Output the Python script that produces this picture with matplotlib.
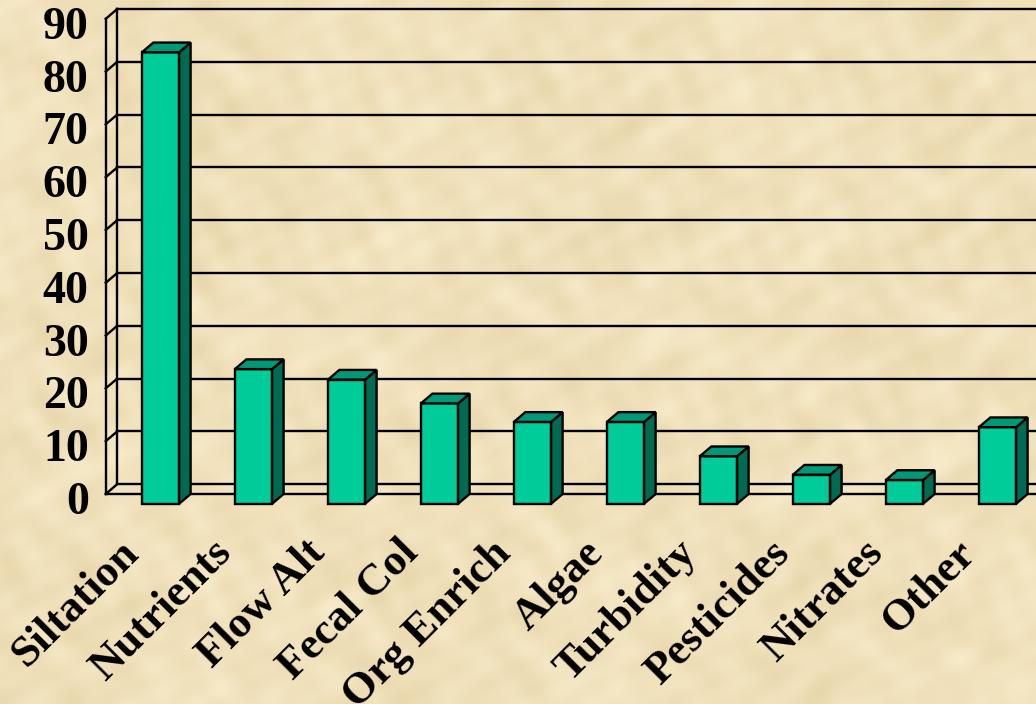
import numpy as np
import matplotlib
matplotlib.use('Agg')
import matplotlib.pyplot as plt
from matplotlib.patches import Rectangle, Polygon
from matplotlib.transforms import ScaledTranslation

categories = ['Siltation', 'Nutrients', 'Flow Alt', 'Fecal Col', 'Org Enrich',
              'Algae', 'Turbidity', 'Pesticides', 'Nitrates', 'Other']
values = [85.5, 25.5, 23.5, 19, 15.5, 15.5, 9, 5.5, 4.5, 14.5]
y_ticks = list(range(0, 100, 10))

FONT = 'Liberation Serif'
FRONT = '#00CC99'
SIDE = '#006B52'
TOP = '#009977'

fig = plt.figure(figsize=(10.36, 7.04), dpi=100)

# parchment-like background (fine mottling)
bg = fig.add_axes([0, 0, 1, 1], zorder=0)
yy, xx = np.mgrid[0:704, 0:1036].astype(float)
n = (np.sin(xx / 13 + 2 * np.sin(yy / 19)) * np.cos(yy / 23 + np.sin(xx / 31))
     + 0.8 * np.sin(yy / 11 + 3 * np.cos(xx / 27)) * np.sin(xx / 47)
     + 0.3 * np.sin((xx + 2 * yy) / 9) + 0.5 * np.cos((3 * xx - yy) / 17) * np.sin(yy / 53)
     + 0.8 * np.sin(xx / 61 + np.cos(yy / 43) * 2) * np.cos(yy / 37))
n = n / np.abs(n).max()
base = np.array([240, 225, 187]) / 255
tint = np.array([8, 11, 16]) / 255
img = np.clip(base[None, None, :] + n[..., None] * tint[None, None, :], 0, 1)
bg.imshow(img, aspect='auto')
bg.axis('off')

# front plane of the 3D box (value axis sits here)
ax = fig.add_axes([105.7 / 1036, (704 - 494) / 704, (1102 - 105.7) / 1036, (494 - 18.8) / 704], zorder=1)
ax.set_facecolor('none')
xmin, xmax = -0.713, 10.0
ax.set_xlim(xmin, xmax)
ax.set_ylim(0, 90)
ax.axis('off')

# depth offset (pixels) converted to data units
p0 = ax.transData.transform([(0, 0)])
ddx, ddy = ax.transData.inverted().transform(p0 + [11.5, 9.75])[0]

lk = dict(color='black', lw=1.7, clip_on=False, solid_capstyle='projecting')
# back wall and grid
for k in y_ticks:
    ax.plot([xmin + ddx, xmax], [k + ddy, k + ddy], zorder=2, **lk)
    ax.plot([xmin, xmin + ddx], [k, k + ddy], zorder=2, **lk)
ax.plot([xmin + ddx, xmin + ddx], [ddy, 90 + ddy], zorder=2, **lk)
ax.plot([xmin, xmin], [0, 90], zorder=2, **lk)
ax.plot([xmin, xmax], [0, 0], zorder=2, **lk)

# bars
w = 0.4
x = np.arange(len(categories))
for xi, v in zip(x, values):
    xf = xi - ddx
    ax.add_patch(Rectangle((xf - w / 2, -ddy), w, v, facecolor=FRONT, edgecolor='black',
                           lw=1.7, zorder=3, clip_on=False))
    ax.add_patch(Polygon([(xf + w / 2, -ddy), (xf + w / 2 + ddx, 0), (xf + w / 2 + ddx, v),
                          (xf + w / 2, v - ddy)], closed=True, facecolor=SIDE,
                         edgecolor='black', lw=1.7, zorder=3, clip_on=False))
    ax.add_patch(Polygon([(xf - w / 2, v - ddy), (xf + w / 2, v - ddy), (xf + w / 2 + ddx, v),
                          (xf - w / 2 + ddx, v)], closed=True, facecolor=TOP,
                         edgecolor='black', lw=1.7, zorder=3, clip_on=False))

# value labels
yoff = ax.transData + ScaledTranslation(-0.17, -0.09, fig.dpi_scale_trans)
for k in y_ticks:
    ax.text(xmin, k, str(k), transform=yoff, ha='right', va='center',
            fontsize=33, fontweight='bold', family=FONT, clip_on=False)

# category labels
xoff = ax.transData + ScaledTranslation(-0.28, -0.43, fig.dpi_scale_trans)
for xi, lab in zip(x, categories):
    ax.text(xi - ddx, -ddy, lab, transform=xoff, rotation=45, rotation_mode='anchor',
            ha='right', va='center', fontsize=32, fontweight='bold', family=FONT, clip_on=False)

fig.savefig('out.png', dpi=100)
